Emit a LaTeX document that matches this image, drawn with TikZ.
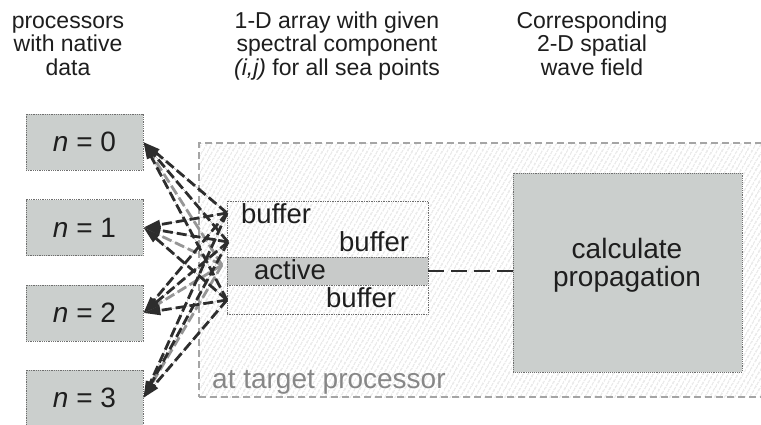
\documentclass[tikz,border=0pt]{standalone}
\usepackage{fontspec}
\setmainfont{Liberation Sans}
\usetikzlibrary{arrows.meta,patterns.meta}
\definecolor{boxfill}{RGB}{203,207,205}
\definecolor{boxline}{RGB}{110,110,110}
\definecolor{hatchcol}{RGB}{200,200,200}
\definecolor{regionline}{RGB}{165,165,165}
\definecolor{darkln}{RGB}{45,45,45}
\definecolor{lightln}{RGB}{150,150,150}
\definecolor{txt}{RGB}{30,30,30}
\definecolor{graytxt}{RGB}{135,135,135}
\definecolor{bandfill}{RGB}{200,202,201}
\begin{document}
\begin{tikzpicture}[x=1pt,y=-1pt,
  head/.style={anchor=base, align=center, inner sep=0pt, text=txt,
    font=\fontsize{23}{23.5}\selectfont},
  proc/.style={draw=boxline, densely dotted, line width=0.8pt, fill=boxfill,
    minimum width=117pt, minimum height=56pt, inner sep=0pt, text=txt,
    font=\fontsize{28}{28}\selectfont},
  region/.style={draw=regionline, dash pattern=on 7pt off 4pt, line width=1.4pt,
    preaction={fill=white},
    pattern={Lines[angle=60,distance=4pt,line width=0.6pt]}, pattern color=hatchcol},
  stackbox/.style={draw=boxline, densely dotted, line width=0.7pt},
  bandbox/.style={draw=boxline, densely dotted, line width=0.7pt, fill=bandfill},
  calcbox/.style={draw=boxline, densely dotted, line width=0.9pt, fill=boxfill},
  inner/.style={anchor=base west, inner sep=0pt, text=txt,
    font=\fontsize{27.5}{28}\selectfont},
  fan/.style={line width=2.8pt, dash pattern=on 10pt off 4pt,
    -{Triangle[length=17pt,width=9pt]}},
  link/.style={draw=darkln, line width=2.8pt, dash pattern=on 16pt off 7pt}
]
\path[use as bounding box, fill=white] (0,0) rectangle (761,424);

% headers
\node[head] (h1) at (68,75) {processors\\with native\\data};
\node[head] (h2) at (337,75) {1-D array with given\\spectral component\\\textit{(i,j)} for all sea points};
\node[head] (h3) at (592,75) {Corresponding\\2-D spatial\\wave field};

% target region
\node[region, minimum width=578pt, minimum height=254pt] (tgt) at (488,270) {};
\node[inner, text=graytxt, font=\fontsize{28}{28}\selectfont] (tp) at (212,388) {at target processor};

% buffer stack
\node[stackbox, minimum width=201pt, minimum height=113pt] (stack) at (327.5,257.5) {};
\node[bandbox, minimum width=201pt, minimum height=28pt] (band) at (327.5,271) {};
\node[inner] (b1) at (241,223) {buffer};
\node[inner] (b2) at (339,251) {buffer};
\node[inner] (act) at (254,279) {active};
\node[inner] (b3) at (326,307) {buffer};

% calculate box
\node[calcbox, minimum width=229pt, minimum height=199pt] (calc) at (627.5,272.5) {};
\node[align=center, inner sep=0pt, text=txt, font=\fontsize{28}{28}\selectfont]
  (calctxt) at (627,265) {calculate\\propagation};

\draw[link] (band.east) -- (band.east -| calc.west);

% processors
\node[proc] (p0) at (84.5,142) {\textit{n} = 0};
\node[proc] (p1) at (84.5,227.5) {\textit{n} = 1};
\node[proc] (p2) at (84.5,313) {\textit{n} = 2};
\node[proc] (p3) at (84.5,398) {\textit{n} = 3};

% fan sources
\coordinate (s1) at (227,213);
\coordinate (s2) at (228,242);
\coordinate (s3) at (222,265);
\coordinate (s4) at (227,300);

\foreach \p in {p0,p1,p2,p3}
  \draw[fan, draw=lightln, fill=lightln] (s3) -- (\p.east);
\foreach \s in {s1,s2,s4}
  \foreach \p in {p0,p1,p2,p3}
    \draw[fan, draw=darkln, fill=darkln] (\s) -- (\p.east);
\end{tikzpicture}
\end{document}
